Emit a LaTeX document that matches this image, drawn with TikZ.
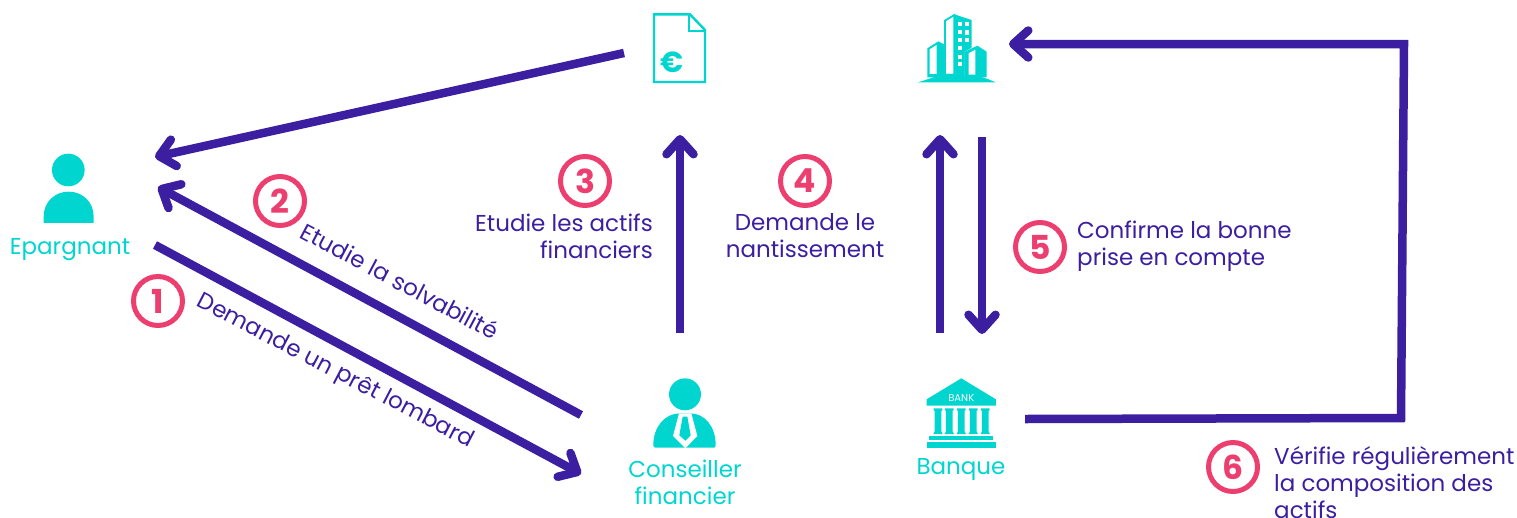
\documentclass[tikz,border=0pt]{standalone}
\usepackage{fontspec}
\setmainfont{Poppins}
\usetikzlibrary{arrows.meta}
\definecolor{flow}{HTML}{3C1EA0}
\definecolor{teal}{HTML}{00D6CF}
\definecolor{badge}{HTML}{EC3F70}
\tikzset{
  flowline/.style={draw=flow,line width=8.5pt},
  flowarrow/.style={flowline,-{Straight Barb[length=15pt,width=27pt,line width=8.5pt,round]}},
  badgenode/.style={circle,draw=badge,line width=5pt,minimum size=49pt,inner sep=0pt,text=badge,font=\fontsize{33}{33}\selectfont\bfseries},
  steptext/.style={text=flow,font=\fontsize{23}{27}\selectfont,inner sep=0pt},
  actor/.style={text=teal,font=\fontsize{23}{27}\selectfont,inner sep=0pt,align=center},
  icon/.style={fill=teal,draw=none},
  zoomA/.style={shift={(620,0)},x=.3333pt,y=-.3333pt},
  zoomB/.style={shift={(600,360)},x=.3333pt,y=-.3333pt},
  zoomC/.style={shift={(0,140)},x=.3333pt,y=-.3333pt},
}
\begin{document}
\begin{tikzpicture}[x=1pt,y=-1pt]
\useasboundingbox (0,0) rectangle (1517,517);
% document icon
\begin{scope}[zoomA]
\draw[teal,line width=2.4pt,line join=miter] (102,43) -- (210,43) -- (255,90) -- (255,246) -- (102,246) -- cycle;
\draw[teal,line width=2.4pt] (207,43) -- (207,93) -- (255,93);
\node[text=teal,font=\fontsize{29}{29}\selectfont\bfseries,inner sep=0pt] (euro) at (156,186) {€};
% building icon
\filldraw[draw=teal,fill=white,line width=1.8pt] (975,62) -- (1003,45) -- (1003,224) -- (975,224) -- cycle;
\fill[icon] (1003,43) -- (1055,60) -- (1055,232) -- (975,232) -- (975,222) -- (1003,222) -- cycle;
\foreach \px in {1021,1041}{\foreach \py/\dd in {72/0,97/0,120/0,145/0,170/0,193/0}{
  \ifnum\px=1041 \ifnum\py>135 \else \fill[white] (\px-5,\py-6) rectangle (\px+5,\py+7); \fi
  \else \fill[white] (\px-6,\py-6) rectangle (\px+6,\py+6); \fi}}
\fill[icon] (922,145) -- (955,124) -- (975,135) -- (975,232) -- (922,232) -- cycle;
\fill[white] (929,148) -- (950,135) -- (950,222) -- (929,222) -- cycle;
\fill[white] (1035,155) -- (1072,134) -- (1075,232) -- (1035,232) -- cycle;
\fill[icon] (1035,155) -- (1072,137) -- (1100,155) -- (1100,232) -- (1035,232) -- cycle;
\fill[white] (1046,160) -- (1066,149) -- (1066,224) -- (1046,224) -- cycle;
\fill[icon] (893,247) .. controls (920,240) and (935,232) .. (950,230) -- (1075,230) .. controls (1095,232) and (1110,240) .. (1127,247) -- cycle;
\end{scope}
% person
\begin{scope}[zoomC]
\fill[icon] (205,90) circle (49);
\fill[icon] (131,249) -- (131,230) .. controls (131,185) and (165,155) .. (206,155) .. controls (247,155) and (281,185) .. (281,230) -- (281,249) -- cycle;
\end{scope}
% adviser and bank
\begin{scope}[zoomB]
\fill[icon] (255,103) circle (48);
\fill[icon] (160,255) .. controls (160,200) and (195,160) .. (240,160) -- (270,160) .. controls (315,160) and (347,200) .. (347,255) -- (347,258) -- (343,263) -- (165,263) -- (160,258) -- cycle;
\fill[white] (237,160) -- (274,160) -- (292,228) -- (256,265) -- (219,228) -- cycle;
\fill[icon] (248,170) -- (262,170) -- (272,226) -- (256,242) -- (238,226) -- cycle;
\fill[icon] (980,137) -- (980,118) -- (1084,55) -- (1188,118) -- (1188,137) -- cycle;
\node[text=white,font=\fontsize{10}{10}\selectfont,inner sep=0pt] (banktag) at (1084,113) {BANK};
\foreach \cx in {1014,1048,1084,1120,1156}{\fill[icon] (\cx-13,145) -- (\cx+13,145) -- (\cx+13,150) -- (\cx+10,153) -- (\cx+10,214) -- (\cx+14,222) -- (\cx-14,222) -- (\cx-10,214) -- (\cx-10,153) -- (\cx-13,150) -- cycle;}
\fill[icon] (988,228) rectangle (1180,240);
\fill[icon] (980,245) rectangle (1188,264);
\end{scope}
% anchors
\coordinate (docout) at (624,53);
\coordinate (savertop) at (155,157);
\coordinate (saverin) at (158,187);
\coordinate (saverout) at (155,245);
\coordinate (advout) at (581,415);
\coordinate (advin) at (581,474);
\coordinate (advup) at (680,333);
\coordinate (docin) at (680,135);
\coordinate (bankup) at (940,333);
\coordinate (buildin) at (940,135);
\coordinate (buildout) at (982,137);
\coordinate (bankin) at (982,334);
\coordinate (bankout) at (1025,419);
\coordinate (corner1) at (1401,418);
\coordinate (corner2) at (1404,44);
\coordinate (buildright) at (1009,44);
% connectors
\draw[flowarrow] (docout) -- (savertop);
\draw[flowarrow] (advout) -- (saverin);
\draw[flowarrow] (saverout) -- (advin);
\draw[flowarrow] (advup) -- (docin);
\draw[flowarrow] (bankup) -- (buildin);
\draw[flowarrow] (buildout) -- (bankin);
\draw[flowarrow,line join=miter] (bankout) -- (corner1) -- (corner2) -- (buildright);
% actor labels
\node[actor] (saver) at (70,250) {Epargnant};
\node[actor] (adviser) at (685,482) {Conseiller\\financier};
\node[actor] (bank) at (961,469) {Banque};
% badges
\node[badgenode] (b1) at (158,301) {1};
\node[badgenode] (b2) at (280,201) {2};
\node[badgenode] (b3) at (585,181) {3};
\node[badgenode] (b4) at (805,181) {4};
\node[badgenode] (b5) at (1040,247) {5};
\node[badgenode] (b6) at (1233,467) {6};
% step labels
\node[steptext,rotate=-27.5] (t1) at (335,372) {Demande un prêt lombard};
\node[steptext,rotate=-28] (t2) at (400,281) {Etudie la solvabilité};
\node[steptext,align=right,anchor=east] (t3) at (653,236) {Etudie les actifs\\financiers};
\node[steptext,align=center] (t4) at (805,236) {Demande le\\nantissement};
\node[steptext,align=left,anchor=west] (t5) at (1077,246) {Confirme la bonne\\prise en compte};
\node[steptext,align=left,anchor=west] (t6) at (1274,483) {Vérifie régulièrement\\la composition des\\actifs};
\end{tikzpicture}
\end{document}
